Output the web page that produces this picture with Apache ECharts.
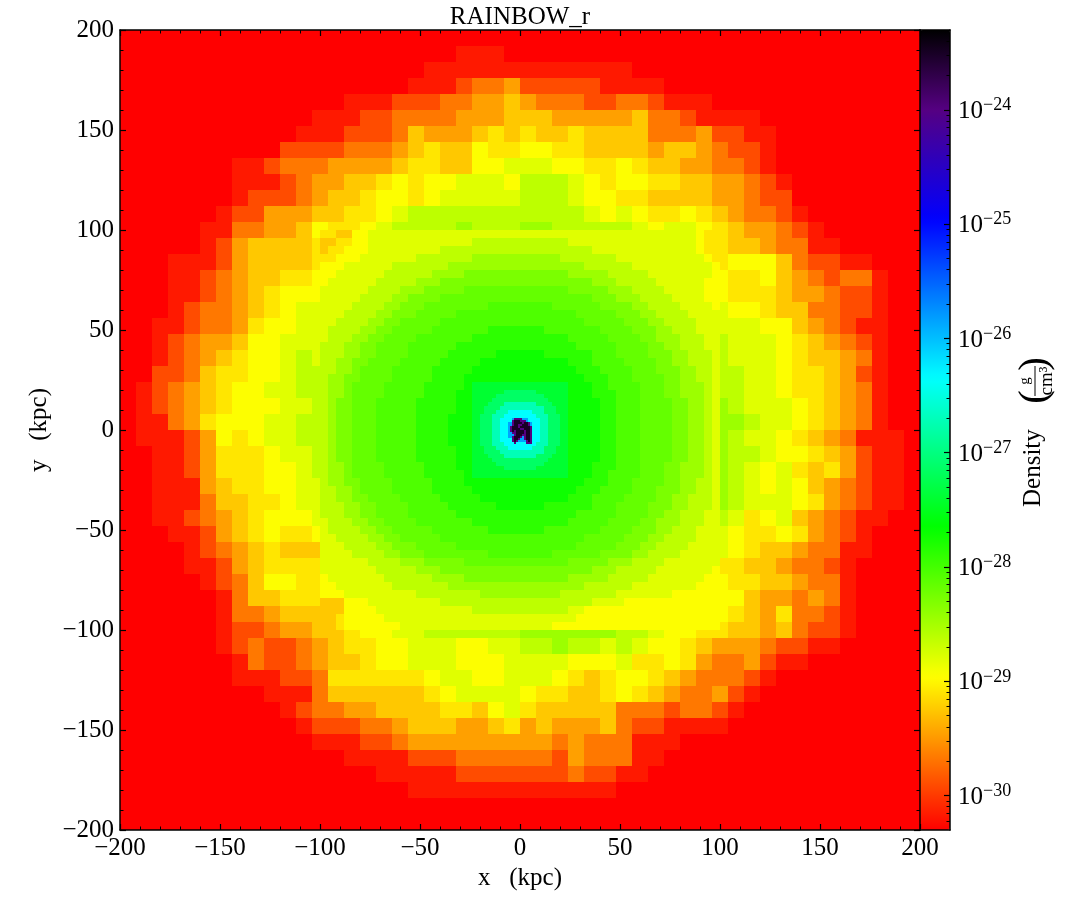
<!DOCTYPE html>
<html>
<head>
<meta charset="utf-8">
<title>RAINBOW_r</title>
<script src="https://cdn.jsdelivr.net/npm/echarts@6/dist/echarts.min.js"></script>
<style>
html, body { margin: 0; padding: 0; background: #fff; }
#main { width: 1085px; height: 920px; }
</style>
</head>
<body>
<div id="main"></div>
<script>
// log10(density) for each letter used in the rows below
var levelKeys = '0123456789abcdefghijkmno';
var levelLogDensity = [-30.3, -30.17, -29.9, -29.67, -29.46, -29.25, -29.09, -28.96, -28.8, -28.62,
    -28.45, -28.28, -28.05, -27.72, -27.14, -26.72, -26.35, -25.85, -24.96, -24.0, -23.5,
    -27.88, -28.16, -27.4];

// coarse cells, 8 kpc wide, top row first, x < 0
var coarseRowsWest = [
    '0000000000000000000000000', '0000000000000000000001110', '0000000000000000000111111',
    '0000000000000000001112334', '0000000000000011122233445', '0000000000001112233334445',
    '0000000000011122235444565', '0000000000222233345655766', '0000000112333444456655778',
    '0000000111234455676778887', '0000000122234556776788888', '0000001224445566789999999',
    '000001133445766789999a999', '0000012455556778999999999', '000111245555678999aaaaaaa',
    '000112345566789aa9abaaaaa', '000112345677789aaaaabaabb', '000123345678899aaabbcbbbb',
    '001123346778899aabbbccbcc', '00123445778889aabbbcccccc', '00123456778989abbbcccccdd',
    '00223566778999abbbccddddd', '0123456778899aabbcccdddef', '0123456777889aabbcccddefg',
    '0113467778899abbbccdddegg', '0111247678899aabbbcdddegg', '0011246667889aabbbcddddef',
    '00112466677899aabbccdddde', '00111456677889aabbcccdddd', '00111355667889aababcccddd',
    '00112345677789aabbbccccdd', '000112456766789aabbcccccc', '000012345655579aabbccbbcc',
    '0000112456666789aabbbaaba', '00000123577667899aaaaaaa9', '0000001355666678899aaaaaa',
    '0000001334555667789999aaa', '0000001223445567788999999', '0000001232234566778887788',
    '0000000132234556778887778', '0000000111223666666788778', '0000000001113555555678888',
    '0000000000123344555566578', '0000000000012223345554456', '0000000000001112234444444',
    '0000000000000011112223333', '0000000000000000111112222', '0000000000000000001111111',
    '0000000000000000000000000', '0000000000000000000000000'
];
// same rows, x > 0
var coarseRowsEast = [
    '0000000000000000000000000', '0000000000000000000000000', '1111111000000000000000000',
    '2222211110000000000000000', '4333223321110000000000000', '5544444533211110000000000',
    '6556555533342211000000000', '7766555545543221000000000', '8877667655443321000000000',
    '9998767766554432100000000', '9998776655554432200000000', '9999878766765433210000000',
    'aa99999878876544321000000', 'aaaaaa9998876554331100000', 'bbaaaaa999976777532211000',
    'bbbbbaaaa9987667543233100', 'cccbbbaaaa987666544322100', 'ccccbbbaaa988776553322100',
    'cccccbbbaa998887754321100', 'ddccccbbbaa99888765432100', 'dddccccbbba99888765543100',
    'ddddccccbbba9988766542100', 'fedddcccccba9988766543100', 'gfedddcccccba988876543100',
    'ggfdddcccccbaa98876543100', 'ggfdddcccbbaa988765431110', 'feedddcccbbaa998776542110',
    'eeddddcccbbaa987865642110', 'dddddccccbbaa987875432110', 'ddddccccbbaaa988876432110',
    'dddccccbbbaa9867854321100', 'dddcccbbbaa98766764321000', 'ddcccbbbaa998765543311000',
    'ddcccbba99986655433210000', 'cccccbb999887665543310000', 'cccbbba999877754434310000',
    'bbbbbaa998877654633210000', 'aaaaaa9987766554532210000', '99a9989877654443221100000',
    '8887778667643342110000000', '8876567765433321000000000', '7665567654334210000000000',
    '6555553332332100000000000', '4544453221111000000000000', '4434333111000000000000000',
    '3324333110000000000000000', '2223221100000000000000000', '1111110000000000000000000',
    '0000000000000000000000000', '0000000000000000000000000'
];
// 4 kpc cells, x and y from -100 to 100, x < 0
var midRowsWest = [
    '6655778888888888888888888', '5566778888888888888999999', '5667778888888889999999999',
    '6677788888889999999aaaaa', '777888888999999' + '9aaaaaaaaa', '77888888999999aaaabbbbbbb',
    '788888899999aaabbbbbbbbbb', '8888889999aaabbbbbnnnnnnn', '888889999aabbbbnnnnnnnnnn',
    '88889999aabbbnnnnnnnncccc', '8889999aabbbnnnnncccccccc', '889999aabbnnnnncccccccccc',
    '89999aabbnnnnncccccccmmmm', '8999aabbnnnncccccccmmmmmm', '999aabbnnnnccccccmmmmmmmm',
    '999aabbnnnncccccmmmmmmddd', '99aabbnnnncccccmmmmmddddd', '99aabnnnncccccmmmmmdddddd',
    '9aabbnnnncccccmmmmddddddd', '9aabnnnncccccmmmmmddddddd', '9aabnnnncccccmmmmdddddddd',
    '9abbnnncccccmmmmmdddddddd', '9abbnnncccccmmmmmdddddddd', '9abbnnncccccmmmmddddddddd',
    '9abbnnncccccmmmmddddddddd', '9abbnnncccccmmmmddddddddd', '9abbnnncccccmmmmddddddddd',
    '9abbnnncccccmmmmmdddddddd', '9abbnnncccccmmmmmdddddddd', '9aabnnnncccccmmmmdddddddd',
    '9aabnnnncccccmmmmmddddddd', '9aabbnnnncccccmmmmddddddd', '99aabnnnncccccmmmmmdddddd',
    '99aabbnnnncccccmmmmmddddd', '999aabbnnnncccccmmmmmmddd', '999aabbnnnnccccccmmmmmmmm',
    '8999aabbnnnncccccccmmmmmm', '89999aabbnnnnncccccccmmmm', '889999aabbnnnnncccccccccc',
    '8889999aabbbnnnnncccccccc', '88889999aabbbnnnnnnnncccc', '8888889999aaabbbbbnnnnnnn',
    '888888899999aaabbbbbbbbbb', '78888888999999aaaabbbbbbb', '7788888889999999aaaaaaaaa',
    '77788888888899999999aaaaa', '5557778888888889999999999', '5557777888888888888999999',
    '5567777788888888888888888', '5567777777888888888888888'
];
// same rows, x > 0
var midRowsEast = [
    '8888888888888888888888766', '9999998888888888888888766', '9999999998888888888888766',
    'aaaaa99999998888888888876', 'aaaaaaaa99999988888888887', 'bbbbbbaaaaa99999888888887',
    'bbbbbbbbbaaa9999988888877', 'nnnnnnbbbbbaaa99998888877', 'nnnnnnnnnbbbaaa9999888877',
    'ccccnnnnnnbbbbaa999988887', 'cccccccnnnnnbbbaa99998888', 'ccccccccnnnnnbbbaa9999888',
    'mmmcccccccnnnnbbbaa999888', 'mmmmmmcccccnnnnbbaaa99988', 'mmmmmmmcccccnnnnbbaa99988',
    'dddmmmmmmcccnnnnbbbaa9998', 'ddddddmmmccccnnnnbbaa9998', 'dddddddmmmccccnnnbbbaa998',
    'ddddddddmmmcccnnnnbbaa998', 'dddddddddmmccccnnnbbaaa98', 'dddddddddmmmcccnnnbbaaa98',
    'ddddddddddmmcccnnnnbbaa98', 'ddddddddddmmcccnnnnbbaa98', 'ddddddddddmmcccnnnnbbaa98',
    'ddddddddddmmcccnnnnbbaa98', 'ddddddddddmmcccnnnnbbaa98', 'ddddddddddmmcccnnnnbbaa98',
    'ddddddddddmmcccnnnnbbaa98', 'ddddddddddmmcccnnnnbbaa98', 'dddddddddmmmcccnnnbbaaa98',
    'dddddddddmmccccnnnbbaaa98', 'ddddddddmmmcccnnnnbbaa998', 'dddddddmmmccccnnnbbbaa998',
    'ddddddmmmccccnnnnbbaa9998', 'dddmmmmmmcccnnnnbbbaa9998', 'mmmmmmmcccccnnnnbbaa99988',
    'mmmmmmcccccnnnnbbaaa99988', 'mmmcccccccnnnnbbbaa999888', 'ccccccccnnnnnbbbaa9999888',
    'cccccccnnnnnbbbaa99998888', 'ccccnnnnnnbbbbaa999988888', 'nnnnnnbbbbbaaa99998888888',
    'bbbbbbbbbaaa9999988888887', 'bbbbbbaaaaa99999888888877', 'aaaaaaaa99999988888888777',
    'aaaaa99999998888888777777', '9999999998888777777777777', '9999998877777777777777777',
    '8888888777777777777777777', '8888777777777777777777777'
];
// 2 kpc cells around the centre, x and y from -24 to 24
var innerRows = [
    'oooooooooooooooooooooooo', 'oooooooooooooooooooooooo', 'ooooooooeeeeeeeeoooooooo',
    'ooooooeeeeeeeeeeeeoooooo', 'oooooeeeeeeeeeeeeeeooooo', 'ooooeeeeffffffffeeeeoooo',
    'oooeeeefffffffffffeeeooo', 'oooeeefffggggggfffeeeooo', 'ooeeefffggggggggfffeeeoo',
    'ooeeeffggghhhhgggffeeeoo', 'ooeeeffgghhhhhhggffeeeoo', 'ooeeeffgghhhhhhggffeeeoo',
    'ooeeeffgghhhhhhggffeeeoo', 'ooeeeffgghhhhhhggffeeeoo', 'ooeeeffggghhhhgggffeeeoo',
    'ooeeefffggggggggfffeeeoo', 'oooeeefffggggggfffeeeooo', 'oooeeeefffffffffffeeeooo',
    'ooooeeeeffffffffeeeeoooo', 'oooooeeeeeeeeeeeeeeooooo', 'ooooooeeeeeeeeeeeeoooooo',
    'ooooooooeeeeeeeeoooooooo', 'oooooooooooooooooooooooo', 'oooooooooooooooooooooooo'
];
// 1 kpc cells of the dense knot, x and y from -8 to 8, dot means no cell
var coreRows = [
    '................', '................', '.....jjjj.......', '....jkkkjjj.....',
    '....jkkkkjkkj...', '....jkkjjkkkj...', '...jkkkjkkkkkj..', '...jkkkkjjkkkj..',
    '...jkjkkkkjkkj..', '....jjkkkkjkkj..', '.....jkkkjjkkj..', '....jkkkj.jkkj..',
    '....jkkj..jkkj..', '....jkj....jkj..', '.....j.....jjj..', '................'
];

// tick values of the colour bar (powers of ten)
var barExponents = [-30, -29, -28, -27, -26, -25, -24];
var barMin = -30.301;
var barMax = -23.301;

// colour map anchors: log10(density) and rgb
var mapAnchors = [
    [-30.301, [255, 0, 0]], [-28.96, [255, 255, 0]], [-27.65, [0, 255, 0]], [-26.35, [0, 255, 255]],
    [-24.96, [0, 0, 255]], [-24.0, [85, 0, 130]], [-23.301, [0, 0, 0]]
];

var serifFont = '"Liberation Serif", "Times New Roman", serif';

// visualMap wants evenly spaced colours
function buildColours() {
    var out = [];
    for (var i = 0; i <= 140; i++) {
        var v = barMin + (barMax - barMin) * i / 140;
        var k = 0;
        while (k < mapAnchors.length - 2 && v > mapAnchors[k + 1][0]) k++;
        var a = mapAnchors[k], b = mapAnchors[k + 1];
        var t = (v - a[0]) / (b[0] - a[0]);
        out.push('rgb(' + Math.round(a[1][0] + (b[1][0] - a[1][0]) * t) + ','
            + Math.round(a[1][1] + (b[1][1] - a[1][1]) * t) + ','
            + Math.round(a[1][2] + (b[1][2] - a[1][2]) * t) + ')');
    }
    return out;
}

// [x centre, y centre, width, log10 density]
function addCells(cells, rows, size, left, top) {
    for (var r = 0; r < rows.length; r++) {
        for (var c = 0; c < rows[r].length; c++) {
            var k = levelKeys.indexOf(rows[r].charAt(c));
            if (k < 0) continue;
            cells.push([left + (c + 0.5) * size, top - (r + 0.5) * size, size, levelLogDensity[k]]);
        }
    }
}

var cells = [];
addCells(cells, coarseRowsWest, 8, -200, 200);
addCells(cells, coarseRowsEast, 8, 0, 200);
addCells(cells, midRowsWest, 4, -100, 100);
addCells(cells, midRowsEast, 4, 0, 100);
addCells(cells, innerRows, 2, -24, 24);
addCells(cells, coreRows, 1, -8, 8);

function renderCell(params, api) {
    var half = api.value(2) / 2;
    var p0 = api.coord([api.value(0) - half, api.value(1) + half]);
    var p1 = api.coord([api.value(0) + half, api.value(1) - half]);
    return {
        type: 'rect',
        shape: { x: p0[0], y: p0[1], width: p1[0] - p0[0], height: p1[1] - p0[1] },
        style: { fill: api.visual('color') }
    };
}

function minusLabel(v) {
    return v < 0 ? '\u2212' + Math.abs(v) : '' + v;
}

var spine = { show: true, onZero: false, lineStyle: { color: '#000', width: 1.5 } };
var hiddenScale = { show: false };

function plotAxis(position, withLabel, extra) {
    var axis = {
        type: 'value',
        gridIndex: 0,
        position: position,
        min: -200,
        max: 200,
        interval: 50,
        z: 10,
        axisLine: spine,
        splitLine: hiddenScale,
        axisTick: { show: true, inside: true, length: 6, lineStyle: { color: '#000', width: 1.2 } },
        minorTick: { show: true, splitNumber: 5, length: 3.5, lineStyle: { color: '#000', width: 1 } },
        axisLabel: {
            show: withLabel,
            formatter: minusLabel,
            color: '#000',
            fontFamily: serifFont,
            fontSize: 25,
            margin: 6,
            hideOverlap: false,
            showMinLabel: true,
            showMaxLabel: true
        }
    };
    for (var key in extra) axis[key] = extra[key];
    return axis;
}

// short ticks of the colour bar, 2..9 in each decade
var barMinorTicks = [];
for (var d = -31; d <= -24; d++) {
    for (var m = 2; m <= 9; m++) {
        var t = d + Math.log10(m);
        if (t > barMin && t < barMax) barMinorTicks.push(t);
    }
}

function barAxis(position) {
    return {
        type: 'value', gridIndex: 1, position: position, min: 0, max: 1, z: 10,
        axisLine: spine, axisTick: hiddenScale, axisLabel: hiddenScale, splitLine: hiddenScale
    };
}

var myChart = echarts.init(document.getElementById('main'));
var yPlotAxis = plotAxis('left', true, {
    name: 'y\u00a0\u00a0\u00a0(kpc)', nameLocation: 'middle', nameGap: 68,
    nameTextStyle: { fontFamily: serifFont, fontSize: 25, color: '#000' }
});
yPlotAxis.axisLabel.padding = [3, 0, 0, 0];

var option = {
    animation: false,
    backgroundColor: '#fff',
    textStyle: { fontFamily: serifFont },
    title: {
        text: 'RAINBOW_r',
        left: 515,
        top: 0,
        textAlign: 'center',
        textStyle: { fontFamily: serifFont, fontSize: 25, fontWeight: 'normal', color: '#000' }
    },
    grid: [
        { left: 120, top: 30, width: 800, height: 800 },
        { left: 920, top: 30, width: 30, height: 800 }
    ],
    xAxis: [
        plotAxis('bottom', true, {
            name: 'x\u00a0\u00a0\u00a0(kpc)', nameLocation: 'middle', nameGap: 33,
            nameTextStyle: { fontFamily: serifFont, fontSize: 25, color: '#000' }
        }),
        plotAxis('top', false, {}),
        barAxis('bottom'),
        barAxis('top')
    ],
    yAxis: [
        yPlotAxis,
        plotAxis('right', false, {}),
        {
            type: 'value', gridIndex: 1, position: 'right', min: barMin, max: barMax, z: 10,
            axisLine: spine,
            splitLine: hiddenScale,
            axisTick: { show: true, inside: true, length: 6, customValues: barExponents,
                lineStyle: { color: '#000', width: 1.2 } },
            axisLabel: {
                show: true,
                customValues: barExponents,
                margin: 8,
                padding: [3, 0, 0, 0],
                formatter: function (v) {
                    return '{b|10}{s|\u2212' + Math.abs(Math.round(v)) + '}';
                },
                rich: {
                    b: { fontFamily: serifFont, fontSize: 25, color: '#000' },
                    s: { fontFamily: serifFont, fontSize: 18, color: '#000', padding: [0, 0, 12, 0] }
                }
            }
        },
        {
            type: 'value', gridIndex: 1, position: 'right', min: barMin, max: barMax, z: 10,
            axisLine: { show: false, onZero: false },
            splitLine: hiddenScale,
            axisLabel: hiddenScale,
            axisTick: { show: true, inside: true, length: 3.5, customValues: barMinorTicks,
                lineStyle: { color: '#000', width: 1 } }
        }
    ],
    visualMap: {
        type: 'continuous',
        seriesIndex: 0,
        dimension: 3,
        min: barMin,
        max: barMax,
        left: 920,
        top: 30,
        padding: 0,
        itemWidth: 30,
        itemHeight: 800,
        calculable: false,
        hoverLink: false,
        realtime: false,
        inRange: { color: buildColours() }
    },
    series: [{
        type: 'custom',
        xAxisIndex: 0,
        yAxisIndex: 0,
        coordinateSystem: 'cartesian2d',
        silent: true,
        clip: true,
        z: 1,
        encode: { x: 0, y: 1 },
        renderItem: renderCell,
        data: cells
    }],
    // colour bar title, turned to read upwards
    graphic: [{
        type: 'group',
        x: 1035,
        y: 430,
        rotation: Math.PI / 2,
        silent: true,
        children: [
            { type: 'text', x: -77, y: -2, style: { text: 'Density', fontFamily: serifFont, fontSize: 25, fill: '#000', verticalAlign: 'middle' } },
            { type: 'text', x: 33, y: 0, style: { text: '(', fontFamily: serifFont, fontSize: 41, fill: '#000', align: 'center', verticalAlign: 'middle' } },
            { type: 'text', x: 66, y: 0, style: { text: ')', fontFamily: serifFont, fontSize: 41, fill: '#000', align: 'center', verticalAlign: 'middle' } },
            { type: 'text', x: 49, y: -10, style: { text: 'g', fontFamily: serifFont, fontSize: 15, fill: '#000', align: 'center', verticalAlign: 'middle' } },
            { type: 'line', shape: { x1: 34, y1: 0, x2: 64, y2: 0 }, style: { stroke: '#000', lineWidth: 1 } },
            { type: 'text', x: 49, y: 12, style: { text: 'cm\u00b3', fontFamily: serifFont, fontSize: 19, fill: '#000', align: 'center', verticalAlign: 'middle' } }
        ]
    }]
};
myChart.setOption(option);
</script>
</body>
</html>
